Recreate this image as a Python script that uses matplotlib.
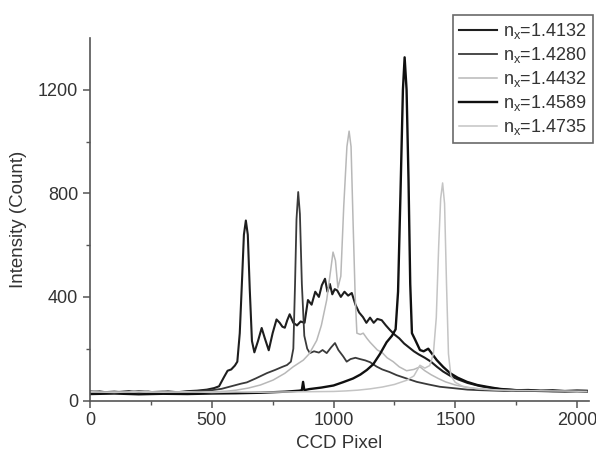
import matplotlib
matplotlib.use("Agg")
import matplotlib.pyplot as plt

plt.rcParams['font.family'] = ['Liberation Sans', 'DejaVu Sans']

# --- data (CCD pixel, intensity) ---
labels = ["1.4132", "1.4280", "1.4432", "1.4589", "1.4735"]

x1 = [0, 40, 80, 120, 160, 200, 240, 280, 320, 360, 400, 440, 480, 510, 530, 550, 565, 580,
      595, 605, 615, 625, 632, 640, 648, 656, 665, 675, 690, 705, 718, 734, 750, 766, 779,
      790, 800, 810, 820, 835, 850, 865, 881, 895, 910, 925, 940, 952, 965, 975, 985, 995,
      1005, 1015, 1030, 1045, 1060, 1075, 1090, 1105, 1121, 1135, 1150, 1165, 1180, 1198,
      1215, 1232, 1250, 1270, 1290, 1310, 1330, 1350, 1375, 1400, 1425, 1450, 1480, 1510,
      1550, 1600, 1650, 1700, 1750, 1800, 1850, 1900, 1950, 2000, 2040]
y1 = [32, 35, 30, 33, 36, 31, 34, 30, 35, 32, 36, 38, 42, 48, 55, 90, 115, 120,
      135, 150, 260, 480, 640, 695, 640, 430, 230, 186, 230, 280, 240, 194, 260, 313, 300,
      285, 281, 310, 333, 300, 290, 305, 300, 388, 370, 420, 400, 445, 470, 420, 450, 410,
      430, 425, 400, 420, 405, 415, 370, 340, 322, 300, 320, 300, 315, 310,
      290, 272, 255, 240, 220, 205, 190, 178, 165, 150, 130, 112, 95, 82,
      68, 56, 48, 43, 40, 41, 38, 40, 37, 39, 38]

x2 = [0, 50, 100, 150, 200, 250, 300, 350, 400, 450, 500, 540, 580, 620, 644, 680, 727, 760,
      790, 809, 825, 835, 842, 848, 855, 862, 870, 880, 892, 903, 920, 940, 955, 972, 990,
      1006, 1020, 1040, 1054, 1070, 1090, 1109, 1130, 1150, 1177, 1200, 1230, 1259, 1300,
      1342, 1390, 1437, 1500, 1550, 1600, 1700, 1800, 1900, 2000, 2040]
y2 = [36, 32, 35, 31, 37, 33, 35, 31, 34, 37, 40, 45, 55, 65, 70, 85, 106, 118,
      130, 137, 150, 200, 450, 700, 805, 720, 450, 250, 200, 183, 190, 185, 195, 183, 205,
      222, 195, 170, 150, 160, 165, 160, 155, 148, 131, 120, 110, 98, 85,
      72, 62, 53, 47, 42, 40, 37, 38, 36, 37, 36]

x3 = [0, 100, 200, 300, 400, 500, 560, 600, 650, 700, 752, 800, 834, 876, 900, 931, 950,
      972, 985, 998, 1008, 1018, 1030, 1042, 1055, 1064, 1072, 1080, 1089, 1096, 1110,
      1122, 1137, 1150, 1165, 1180, 1200, 1220, 1245, 1270, 1300, 1330, 1355, 1375, 1400,
      1430, 1460, 1500, 1550, 1600, 1700, 1800, 1900, 2000, 2040]
y3 = [30, 33, 29, 32, 30, 33, 36, 40, 48, 60, 79, 105, 130, 156, 180, 232, 290,
      388, 480, 573, 540, 435, 480, 750, 980, 1040, 980, 700, 400, 260, 255,
      260, 240, 225, 210, 195, 185, 165, 150, 130, 115, 120, 130, 115, 100,
      85, 72, 60, 50, 45, 40, 38, 36, 37, 36]

x4 = [0, 100, 200, 300, 400, 500, 600, 700, 800, 860, 870, 875, 880, 900, 950, 1000, 1040,
      1080, 1110, 1137, 1163, 1191, 1218, 1240, 1255, 1265, 1275, 1285, 1292, 1300, 1308,
      1315, 1322, 1335, 1355, 1370, 1389, 1405, 1424, 1450, 1478, 1510, 1548, 1590, 1630,
      1680, 1750, 1800, 1850, 1900, 1950, 2000, 2040]
y4 = [25, 27, 24, 26, 25, 27, 28, 30, 34, 38, 40, 72, 40, 44, 50, 58, 71,
      85, 100, 118, 140, 180, 225, 250, 275, 420, 800, 1200, 1325, 1200, 850,
      450, 260, 235, 195, 190, 200, 180, 156, 130, 106, 88, 72, 60, 53,
      45, 40, 38, 37, 36, 35, 36, 35]

x5 = [0, 100, 200, 300, 400, 500, 600, 700, 800, 900, 1000, 1050, 1100, 1150, 1200, 1250,
      1300, 1330, 1355, 1375, 1395, 1410, 1422, 1432, 1440, 1448, 1456, 1464, 1472, 1482,
      1500, 1530, 1570, 1620, 1700, 1800, 1900, 2000, 2040]
y5 = [34, 31, 35, 32, 34, 31, 33, 32, 33, 34, 35, 37, 40, 45, 52, 62,
      78, 95, 136, 125, 135, 180, 320, 600, 780, 840, 760, 450, 180, 95,
      70, 55, 48, 43, 40, 38, 37, 36, 35]

xs = [x1, x2, x3, x4, x5]
ys = [y1, y2, y3, y4, y5]
colors = ['#1e1e1e', '#3a3a3a', '#b8b8b8', '#101010', '#c4c4c4']
widths = [1.5, 1.3, 1.1, 1.7, 1.1]

fig = plt.figure(figsize=(5.96, 4.61), dpi=100)
ax = fig.add_axes([0.151, 0.1312, 0.8368, 0.7866])

for x, y, c, w, lab in zip(xs, ys, colors, widths, labels):
    ax.plot(x, y, color=c, lw=w, label=r'n$_\mathregular{x}$=' + lab)

ax.set_xlim(0, 2048)
ax.set_ylim(0, 1400)
ax.set_xticks([0, 500, 1000, 1500, 2000])
ax.set_xticks(range(250, 2048, 500), minor=True)
ax.set_yticks([0, 400, 800, 1200])
ax.set_yticks([200, 600, 1000], minor=True)

for s in ['top', 'right']:
    ax.spines[s].set_visible(False)
for s in ['left', 'bottom']:
    ax.spines[s].set_color('#555555')
    ax.spines[s].set_linewidth(1.2)
ax.tick_params(which='major', length=5, width=1.1, color='#555555',
               labelsize=13, labelcolor='#333333')
ax.tick_params(which='minor', length=3, width=1.0, color='#555555')

ax.set_xlabel("CCD Pixel", fontsize=13.5, color='#333333', labelpad=4)
ax.set_ylabel("Intensity (Count)", fontsize=13.5, color='#333333', labelpad=8)

leg = ax.legend(loc='upper right', bbox_to_anchor=(0.995, 0.968),
                bbox_transform=fig.transFigure, borderaxespad=0,
                fancybox=False, frameon=True, fontsize=13,
                handlelength=2.1, handletextpad=0.3, labelspacing=0.22,
                borderpad=0.35)
leg.get_frame().set_edgecolor('#444444')
leg.get_frame().set_linewidth(1.2)
for t in leg.get_texts():
    t.set_color('#333333')

fig.savefig("out.png", dpi=100)
